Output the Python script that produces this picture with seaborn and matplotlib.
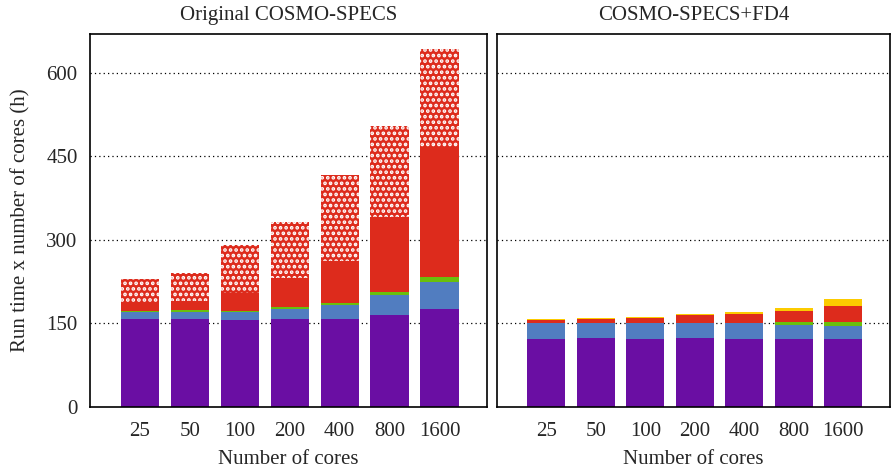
import pandas as pd
import matplotlib.pyplot as plt
import seaborn as sns

# Values (cumulative stacked tops, hours)
cores = ['25', '50', '100', '200', '400', '800', '1600']

# Original COSMO-SPECS
orig_purple = [158, 158, 156, 158, 158, 165, 176]
orig_blue = [171, 171, 171, 176, 183, 201, 225]
orig_green = [172, 175, 172, 180, 186, 207, 234]
orig_red = [187, 191, 205, 232, 262, 341, 465]
orig_hatch = [230, 241, 291, 332, 416, 505, 643]
orig_yellow = [230, 241, 291, 332, 416, 505, 643]

# COSMO-SPECS+FD4
fd4_purple = [122, 124, 122, 124, 122, 122, 122]
fd4_blue = [150, 150, 150, 150, 150, 148, 146]
fd4_green = [151, 151.5, 151, 151, 151, 152, 153]
fd4_red = [156, 158, 160, 165, 167, 172, 181]
fd4_hatch = [156, 158, 160, 165, 167, 172, 181]
fd4_yellow = [158, 160, 162, 167, 171, 178, 194]

colors = {
    'yellow': '#FCCB00',
    'hatch': '#DD2B1C',
    'red': '#DD2B1C',
    'green': '#6ABF0C',
    'blue': '#517DC0',
    'purple': '#6A0EA3',
}

sns.set_style('white')
plt.rcParams['font.family'] = ['Liberation Serif', 'DejaVu Serif']
plt.rcParams['hatch.color'] = 'white'
plt.rcParams['hatch.linewidth'] = 1.8

fs = 15

fig = plt.figure(figsize=(8.92, 4.73), dpi=100)
ax1 = fig.add_axes([0.101, 0.1395, 0.445, 0.789])
ax2 = fig.add_axes([0.557, 0.1395, 0.441, 0.789], sharey=ax1)

panels = [
    (ax1, 'Original COSMO-SPECS',
     [orig_yellow, orig_hatch, orig_red, orig_green, orig_blue, orig_purple]),
    (ax2, 'COSMO-SPECS+FD4',
     [fd4_yellow, fd4_hatch, fd4_red, fd4_green, fd4_blue, fd4_purple]),
]
layer_names = ['yellow', 'hatch', 'red', 'green', 'blue', 'purple']

for ax, title, layers in panels:
    for y in [150, 300, 450, 600]:
        ax.axhline(y, color='black', linestyle=(0, (1, 2.5)), linewidth=0.9, zorder=0)
    # draw tallest layer first so lower ones cover it
    for name, vals in zip(layer_names, layers):
        df = pd.DataFrame({'cores': cores, 'hours': vals})
        n_before = len(ax.patches)
        sns.barplot(data=df, x='cores', y='hours', order=cores, color=colors[name],
                    saturation=1, width=0.77, linewidth=0, ax=ax, zorder=2)
        if name == 'hatch':
            for p in ax.patches[n_before:]:
                p.set_hatch('...')
                p.set_edgecolor('white')
                p.set_linewidth(0)
    ax.set_title(title, fontsize=fs, pad=10)
    ax.set_xlabel('Number of cores', fontsize=fs, labelpad=6)
    ax.set_ylabel('')
    ax.set_xlim(-1.0, 6.95)
    ax.set_ylim(0, 670)
    ax.tick_params(axis='x', length=0, labelsize=fs, pad=11)
    ax.tick_params(axis='y', length=0, labelsize=fs, pad=9)
    for s in ax.spines.values():
        s.set_visible(True)
        s.set_color('black')
        s.set_linewidth(1.2)

ax1.set_yticks([0, 150, 300, 450, 600])
ax1.set_ylabel('Run time x number of cores (h)', fontsize=fs, labelpad=11)
plt.setp(ax2.get_yticklabels(), visible=False)

plt.savefig('out.png', dpi=100)
